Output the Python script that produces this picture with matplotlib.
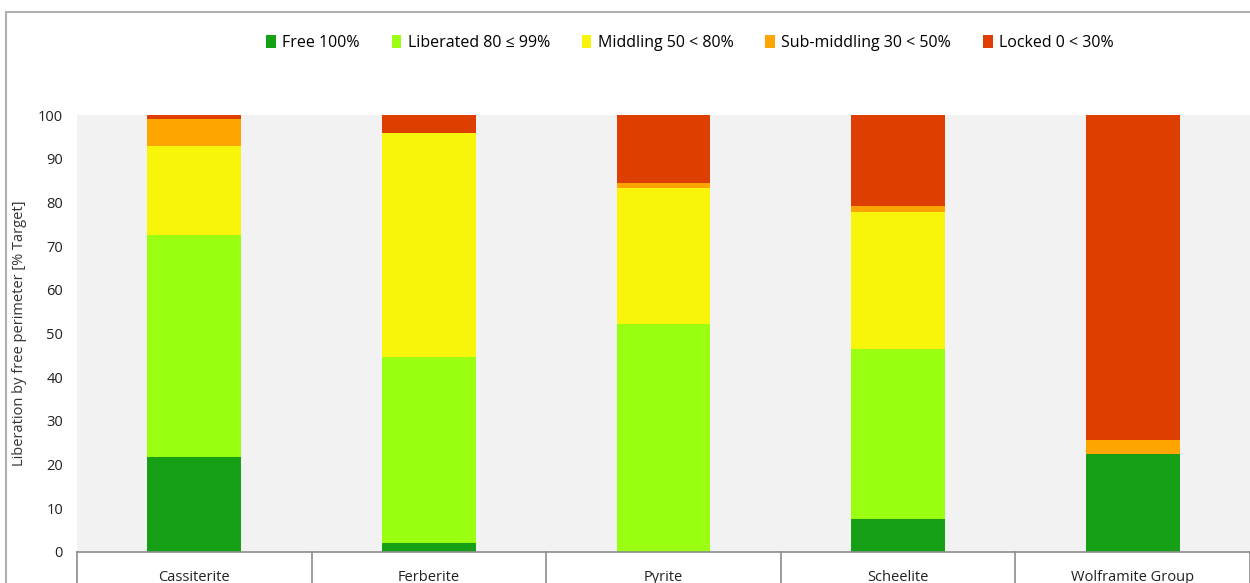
import numpy as np
import matplotlib
matplotlib.use("Agg")
import matplotlib.pyplot as plt
from matplotlib.patches import Rectangle

plt.rcParams['font.family'] = ['Open Sans', 'DejaVu Sans']

minerals = ['Cassiterite', 'Ferberite', 'Pyrite', 'Scheelite', 'Wolframite Group']
classes = ['Free 100%', 'Liberated 80 \u2264 99%', 'Middling 50 < 80%',
           'Sub-middling 30 < 50%', 'Locked 0 < 30%']
free = [21.8, 2.1, 0.0, 7.5, 22.4]
liberated = [50.8, 42.6, 52.2, 39.0, 0.0]
middling = [20.3, 51.1, 31.1, 31.3, 0.0]
sub_middling = [6.1, 0.0, 1.2, 1.4, 3.2]
locked = [1.0, 4.2, 15.5, 20.8, 74.4]
colors = ['#16A016', '#9BFF12', '#F8F50A', '#FFA500', '#DE3E00']

series = [free, liberated, middling, sub_middling, locked]

fig = plt.figure(figsize=(12.5, 5.83), dpi=100)
ax = fig.add_axes([0.0616, 0.0532, 0.9384, 0.7495])
ax.set_facecolor('#F2F2F2')

x = np.arange(len(minerals))
bottom = np.zeros(len(minerals))
for vals, col, lab in zip(series, colors, classes):
    ax.bar(x, vals, width=0.4, bottom=bottom, color=col, label=lab, zorder=2)
    bottom += np.array(vals)

ax.set_xlim(-0.5, len(minerals) - 0.5)
ax.set_ylim(0, 100)
ax.set_yticks(range(0, 101, 10))
ax.tick_params(axis='y', length=0, labelsize=10.5, pad=10, colors='#222222')
ax.tick_params(axis='x', length=0, labelsize=10.5, pad=13, colors='#222222')
ax.set_xticks(x)
ax.set_xticklabels(minerals)
for s in ['top', 'right', 'left']:
    ax.spines[s].set_visible(False)
ax.spines['bottom'].set_color('#8C8C8C')
ax.spines['bottom'].set_linewidth(1.2)

# category boxes below the axis
for b in np.arange(-0.5, len(minerals), 1.0):
    ax.plot([b, b], [0, -10], color='#8C8C8C', lw=1.2, clip_on=False, zorder=3)

ax.set_ylabel('Liberation by free perimeter [% Target]', fontsize=10.5, color='#333333')
ax.yaxis.set_label_coords(-0.043, 0.5)

fig.legend(loc='center', bbox_to_anchor=(0.552, 0.926), ncol=5, frameon=False,
           fontsize=11.5, handlelength=0.6, handleheight=0.8, handletextpad=0.4,
           columnspacing=2.0)

fig.patches.append(Rectangle((0.0048, -0.1), 1.2, 1.1 - 0.0206, transform=fig.transFigure,
                             fill=False, edgecolor='#B0B0B0', lw=1.5))

fig.savefig('out.png', dpi=100)
